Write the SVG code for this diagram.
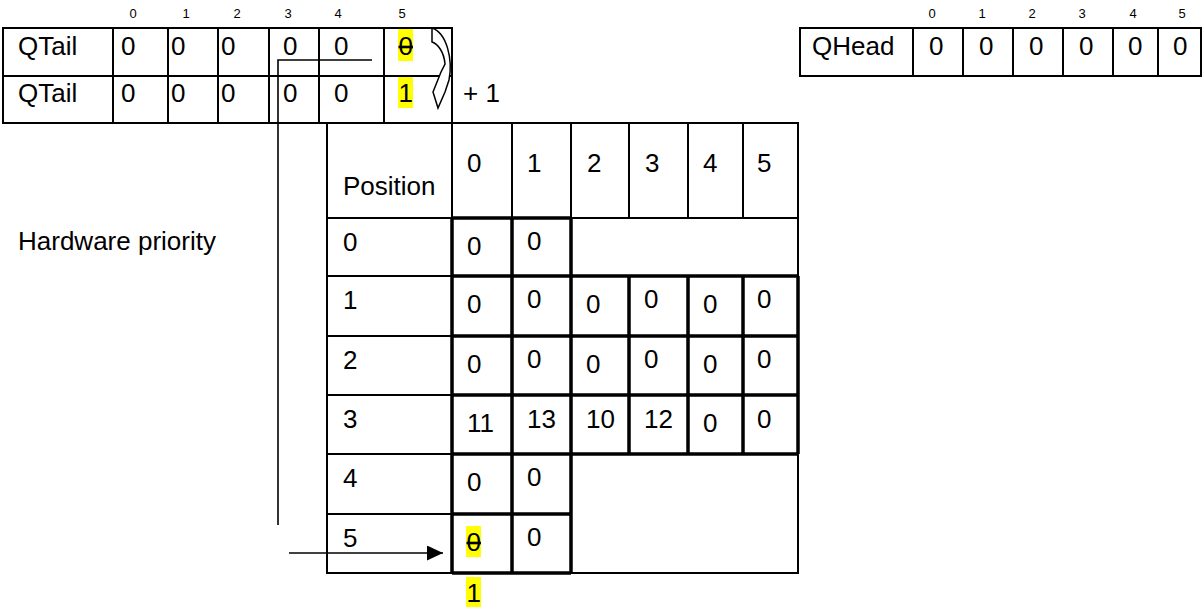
<svg xmlns="http://www.w3.org/2000/svg" width="1203" height="608" viewBox="0 0 1203 608">
<style>
.t{font-family:"Liberation Sans",Arial,sans-serif;font-size:26px;fill:#000}
.s{font-family:"Liberation Sans",Arial,sans-serif;font-size:13px;fill:#000;text-anchor:middle}
.thin{fill:none;stroke:#000;stroke-width:2}
.thick{fill:none;stroke:#000;stroke-width:3.5}
.hl{fill:#FFFF00}
.strike{text-decoration:line-through}
.conn{fill:none;stroke:#000;stroke-width:1.6}
</style>
<defs>
<marker id="ah" markerWidth="16" markerHeight="16" refX="16" refY="7.5" orient="auto" markerUnits="userSpaceOnUse">
<path d="M0,0 L16,7.5 L0,15 Z" fill="#000"/>
</marker>
</defs>
<rect width="1203" height="608" fill="#fff"/>

<g id="qtail-table">
<g class="s">
<text x="133" y="18">0</text><text x="186" y="18">1</text><text x="237" y="18">2</text><text x="288" y="18">3</text><text x="338" y="18">4</text><text x="402" y="18">5</text>
</g>
<path class="thin" d="M3,28 H452 V123 H3 Z M3,76 H452 M113,28 V123 M168,28 V123 M218,28 V123 M269,28 V123 M319,28 V123 M384,28 V123"/>
<rect class="hl" x="398" y="29" width="15" height="32"/>
<rect class="hl" x="398" y="77" width="15" height="31"/>
<text class="t" x="18" y="55">QTail</text>
<text class="t" x="121" y="55">0</text><text class="t" x="171" y="55">0</text><text class="t" x="221" y="55">0</text><text class="t" x="283" y="55">0</text><text class="t" x="334" y="55">0</text><text class="t strike" x="398.5" y="55">0</text>
<text class="t" x="18" y="102">QTail</text>
<text class="t" x="121" y="102">0</text><text class="t" x="171" y="102">0</text><text class="t" x="221" y="102">0</text><text class="t" x="283" y="102">0</text><text class="t" x="334" y="102">0</text><text class="t" x="398.5" y="102">1</text>
<text class="t" x="463" y="102">+ 1</text>
</g>

<g id="qhead-table">
<g class="s">
<text x="932" y="18">0</text><text x="982" y="18">1</text><text x="1032" y="18">2</text><text x="1082" y="18">3</text><text x="1133" y="18">4</text><text x="1182" y="18">5</text>
</g>
<path class="thin" d="M800,28 H1201 V76 H800 Z M913,28 V76 M963,28 V76 M1013,28 V76 M1063,28 V76 M1113,28 V76 M1158,28 V76"/>
<text class="t" x="812" y="55">QHead</text>
<text class="t" x="929" y="55">0</text><text class="t" x="979" y="55">0</text><text class="t" x="1029" y="55">0</text><text class="t" x="1079" y="55">0</text><text class="t" x="1128" y="55">0</text><text class="t" x="1173" y="55">0</text>
</g>

<g id="hardware-priority-label">
<text class="t" x="18" y="250">Hardware priority</text>
</g>

<g id="priority-grid">
<path class="thin" d="M327,123 H798 V218 M327,123 V573 H452 M327,218 H452 M327,276 H452 M327,336 H452 M327,395 H452 M327,454 H452 M327,514 H452 M452,123 V218 M512,123 V218 M571,123 V218 M629,123 V218 M688,123 V218 M743,123 V218 M571,218 H798 V276 M798,454 V573 H571"/>
<path class="thick" d="M452,218 H571 M452,276 H798 M452,336 H798 M452,395 H798 M452,454 H798 M452,514 H571 M452,573 H571 M452,218 V573 M512,218 V573 M571,218 V573 M629,276 V454 M688,276 V454 M743,276 V454 M798,276 V454"/>
<text class="t" x="343" y="195">Position</text>
<text class="t" x="467" y="172">0</text><text class="t" x="527" y="172">1</text><text class="t" x="587" y="172">2</text><text class="t" x="645" y="172">3</text><text class="t" x="703" y="172">4</text><text class="t" x="757" y="172">5</text>
<text class="t" x="343" y="251">0</text><text class="t" x="343" y="309">1</text><text class="t" x="343" y="369">2</text><text class="t" x="343" y="428">3</text><text class="t" x="343" y="487">4</text><text class="t" x="343" y="547">5</text>
<text class="t" x="467" y="255">0</text><text class="t" x="527" y="250">0</text>
<text class="t" x="467" y="313">0</text><text class="t" x="527" y="308">0</text><text class="t" x="586" y="313">0</text><text class="t" x="644" y="308">0</text><text class="t" x="703" y="313">0</text><text class="t" x="757" y="308">0</text>
<text class="t" x="467" y="373">0</text><text class="t" x="527" y="368">0</text><text class="t" x="586" y="373">0</text><text class="t" x="644" y="368">0</text><text class="t" x="703" y="373">0</text><text class="t" x="757" y="368">0</text>
<text class="t" x="467" y="432">11</text><text class="t" x="527" y="428">13</text><text class="t" x="586" y="428">10</text><text class="t" x="644" y="428">12</text><text class="t" x="703" y="432">0</text><text class="t" x="757" y="428">0</text>
<text class="t" x="467" y="491">0</text><text class="t" x="527" y="486">0</text>
<rect class="hl" x="466" y="526" width="15" height="31"/>
<text class="t strike" x="466.5" y="551">0</text><text class="t" x="527" y="546">0</text>
<rect class="hl" x="466" y="577" width="15" height="30"/>
<text class="t" x="466.5" y="602">1</text>
</g>

<g id="connectors">
<path class="conn" d="M372,60 H278 V525"/>
<path class="conn" d="M289,553 H443" marker-end="url(#ah)"/>
<path d="M432,28 L432,42 C438,44 444,52 445,64 L441,72 L433,92 L438,108 L445,92 L449,80 C453,60 447,33 432,28 Z" fill="#fff" stroke="#000" stroke-width="1.5"/>
</g>
</svg>
